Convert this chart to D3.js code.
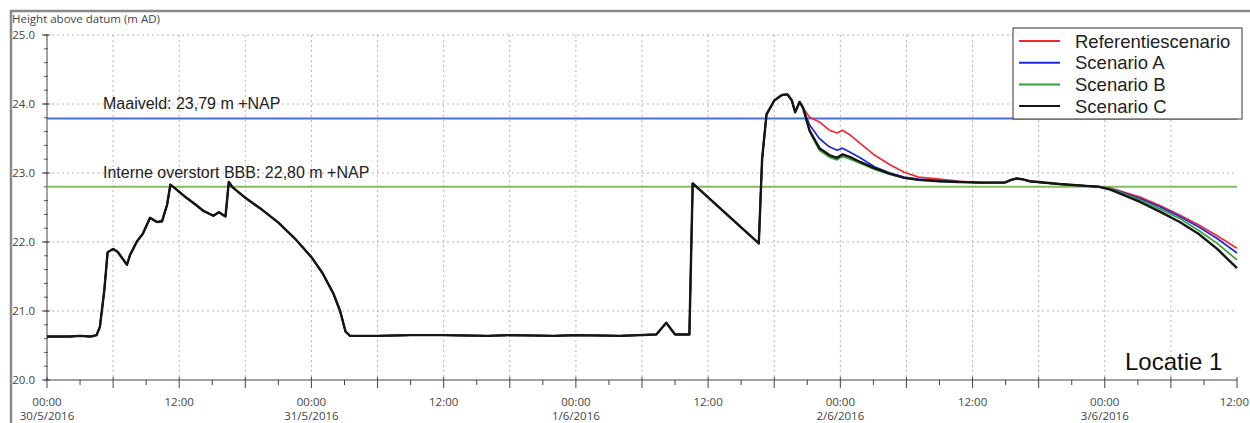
<!DOCTYPE html>
<html>
<head>
<meta charset="utf-8">
<script src="https://cdn.jsdelivr.net/npm/d3@7"></script>
<style>
  body { margin: 0; background: #fff; }
  text { font-family: "Liberation Sans", Arial, sans-serif; }
  .tick-label { font-family: "Open Sans", sans-serif; font-size: 11.5px; fill: #444; }
</style>
</head>
<body>
<div id="chart"></div>
<script>
// ------------------------------------------------ Data -------------------------------------------------
// hours since 30/5/2016 00:00, water level (m AD) - identical for all scenarios until the split
var commonHours = [0, 2, 3, 4, 4.5, 4.8, 5.2, 5.5, 6.0, 6.4, 7.26, 7.53, 8.17, 8.7, 9.35, 9.98, 10.44, 10.9, 11.2, 11.6,
    12.5, 13.5, 14.2, 15.1, 15.6, 16.2, 16.5, 16.8, 18, 19.5, 21, 22.5, 24, 25, 26, 26.6, 27.1, 27.5, 30, 33, 36, 40,
    42, 46, 48, 52, 55.3, 56.2, 57, 58.3, 58.6, 64.6, 64.9, 65.3, 66.0, 66.7, 67.2, 67.6, 67.9, 68.3, 68.6]
var commonLevels = [20.63, 20.63, 20.64, 20.63, 20.65, 20.77, 21.3, 21.85, 21.9, 21.86, 21.67, 21.81, 22.01, 22.12, 22.35, 22.29, 22.3, 22.54, 22.83, 22.78,
    22.66, 22.54, 22.45, 22.38, 22.43, 22.37, 22.87, 22.8, 22.64, 22.47, 22.28, 22.05, 21.78, 21.55, 21.25, 21.0, 20.7, 20.64, 20.64, 20.65, 20.65, 20.64,
    20.65, 20.64, 20.65, 20.64, 20.66, 20.83, 20.66, 20.66, 22.85, 21.98, 23.2, 23.85, 24.05, 24.13, 24.14, 24.05, 23.88, 24.03, 23.95]

// after the split every scenario has its own values
var tailHours = [68.6, 69.2, 70.1, 71.0, 71.7, 72.2, 72.9, 73.8, 75.1, 76.5, 77.8, 79.1, 81, 82.8, 84.7, 86.9, 87.5, 88.0,
    88.5, 89.2, 91.9, 94.6, 95.5, 96.5, 97.4, 99.2, 101, 102.8, 104.5, 106.2, 108]
var refValues = [23.95, 23.81, 23.74, 23.62, 23.58, 23.62, 23.55, 23.43, 23.26, 23.12, 23.01, 22.94, 22.91, 22.88, 22.86, 22.86, 22.9, 22.92,
    22.91, 22.88, 22.84, 22.81, 22.80, 22.78, 22.74, 22.65, 22.53, 22.39, 22.25, 22.09, 21.91]
var scenAValues = [23.95, 23.70, 23.50, 23.38, 23.33, 23.36, 23.30, 23.22, 23.09, 23.00, 22.94, 22.91, 22.89, 22.87, 22.86, 22.86, 22.9, 22.92,
    22.91, 22.88, 22.84, 22.81, 22.80, 22.77, 22.73, 22.63, 22.51, 22.37, 22.22, 22.05, 21.84]
var scenBValues = [23.95, 23.60, 23.33, 23.23, 23.19, 23.24, 23.20, 23.14, 23.05, 22.98, 22.93, 22.90, 22.88, 22.87, 22.86, 22.86, 22.9, 22.92,
    22.91, 22.88, 22.84, 22.81, 22.80, 22.77, 22.72, 22.61, 22.48, 22.34, 22.17, 21.98, 21.74]
var scenCValues = [23.95, 23.62, 23.36, 23.26, 23.22, 23.27, 23.23, 23.16, 23.07, 22.99, 22.93, 22.90, 22.88, 22.87, 22.86, 22.86, 22.9, 22.92,
    22.91, 22.88, 22.84, 22.81, 22.80, 22.76, 22.70, 22.58, 22.44, 22.29, 22.12, 21.90, 21.62]

var seriesNames = ['Referentiescenario', 'Scenario A', 'Scenario B', 'Scenario C']
var seriesColors = ['#f02a35', '#2228d8', '#3a9e3a', '#151515']
var seriesTails = [refValues, scenAValues, scenBValues, scenCValues]

var refLevels = [23.79, 22.80]
var refLabels = ['Maaiveld: 23,79 m +NAP', 'Interne overstort BBB: 22,80 m +NAP']
var refColors = ['#4b6fd6', '#86bd5c']

var yTicks = [20, 21, 22, 23, 24, 25]

// ------------------------------------------------ Setup -------------------------------------------------
var width = 1250
var height = 423
var margin = {left: 47, top: 35, right: 13, bottom: 43}
var startDate = new Date(2016, 4, 30, 0, 0)
var endDate = new Date(2016, 5, 3, 12, 0)

var hourToDate = function(h) { return new Date(startDate.getTime() + h * 3600 * 1000) }

var svg = d3.select('#chart').append('svg')
    .attr('width', width)
    .attr('height', height)

var x = d3.scaleTime().domain([startDate, endDate]).range([margin.left, width - margin.right])
var y = d3.scaleLinear().domain([20, 25]).range([height - margin.bottom, margin.top])

// outer frame
svg.append('rect')
    .attr('x', 11).attr('y', 11)
    .attr('width', width + 20).attr('height', height + 20)
    .attr('fill', 'none')
    .attr('stroke', '#8a8a8a')
    .attr('stroke-width', 2.5)

svg.append('text')
    .attr('x', 12).attr('y', 23)
    .attr('class', 'tick-label')
    .text('Height above datum (m AD)')

// ------------------------------------------------ Grid -------------------------------------------------
var sixHours = d3.timeHour.every(6).range(startDate, endDate)
svg.append('g').selectAll('line')
    .data(sixHours.slice(1))
    .join('line')
    .attr('x1', d => x(d)).attr('x2', d => x(d))
    .attr('y1', y(25)).attr('y2', y(20))
    .attr('stroke', '#b5b5b5')
    .attr('stroke-dasharray', '2,3')

svg.append('g').selectAll('line')
    .data(yTicks.slice(1))
    .join('line')
    .attr('x1', x.range()[0]).attr('x2', x.range()[1])
    .attr('y1', d => y(d)).attr('y2', d => y(d))
    .attr('stroke', '#b5b5b5')
    .attr('stroke-dasharray', '2,3')

// ------------------------------------------------ Axes -------------------------------------------------
var yAxis = svg.append('g').attr('transform', 'translate(' + margin.left + ',0)')
yAxis.append('line')
    .attr('y1', y(25)).attr('y2', y(20))
    .attr('stroke', '#444')
yAxis.selectAll('.minor')
    .data(d3.range(20, 25.01, 0.2))
    .join('line')
    .attr('class', 'minor')
    .attr('x1', -3).attr('x2', 1)
    .attr('y1', d => y(d)).attr('y2', d => y(d))
    .attr('stroke', '#555')
yAxis.selectAll('.major')
    .data(yTicks)
    .join('line')
    .attr('class', 'major')
    .attr('x1', -5).attr('x2', 3)
    .attr('y1', d => y(d)).attr('y2', d => y(d))
    .attr('stroke', '#444')
yAxis.selectAll('text')
    .data(yTicks)
    .join('text')
    .attr('class', 'tick-label')
    .attr('x', -12)
    .attr('y', d => y(d) + 4)
    .attr('text-anchor', 'end')
    .text(d => d3.format('.1f')(d))

var xAxis = svg.append('g').attr('transform', 'translate(0,' + y(20) + ')')
xAxis.append('line')
    .attr('x1', x.range()[0]).attr('x2', x.range()[1])
    .attr('stroke', '#444')
xAxis.selectAll('.tk')
    .data(d3.timeHour.every(3).range(startDate, new Date(endDate.getTime() + 1)))
    .join('line')
    .attr('class', 'tk')
    .attr('x1', d => x(d)).attr('x2', d => x(d))
    .attr('y1', d => d.getHours() % 6 == 0 ? -3 : 0)
    .attr('y2', d => d.getHours() % 6 == 0 ? 8 : 5)
    .attr('stroke', '#444')

var labelTimes = d3.timeHour.every(12).range(startDate, new Date(endDate.getTime() + 1))
xAxis.selectAll('.hl')
    .data(labelTimes)
    .join('text')
    .attr('class', 'tick-label hl')
    .attr('x', d => x(d) > 1230 ? width - 1 : x(d))
    .attr('y', 26)
    .attr('text-anchor', d => x(d) > 1230 ? 'end' : 'middle')
    .text(d3.timeFormat('%H:%M'))
xAxis.selectAll('.dl')
    .data(labelTimes.filter(d => d.getHours() == 0))
    .join('text')
    .attr('class', 'tick-label dl')
    .attr('x', d => x(d))
    .attr('y', 40)
    .attr('text-anchor', 'middle')
    .text(d3.timeFormat('%-d/%-m/%Y'))

// ------------------------------------------------ Reference levels -------------------------------------------------
svg.append('g').selectAll('line')
    .data(refLevels)
    .join('line')
    .attr('x1', x.range()[0]).attr('x2', x.range()[1])
    .attr('y1', d => y(d)).attr('y2', d => y(d))
    .attr('stroke', (d, i) => refColors[i])
    .attr('stroke-width', 2)

svg.append('g').selectAll('text')
    .data(refLevels)
    .join('text')
    .attr('x', 103)
    .attr('y', (d, i) => y(i == 0 ? 24 : 23) + 5)
    .style('font-size', '16px')
    .style('fill', '#222')
    .text((d, i) => refLabels[i])

// ------------------------------------------------ Lines -------------------------------------------------
var line = d3.line()
    .x(d => x(hourToDate(d[0])))
    .y(d => y(d[1]))

var commonPoints = commonHours.map((h, i) => [h, commonLevels[i]])

svg.append('g').selectAll('path')
    .data(seriesTails)
    .join('path')
    .attr('d', function(tail) {
        var pts = commonPoints.concat(tailHours.slice(1).map((h, i) => [h, tail[i + 1]]))
        return line(pts)
    })
    .attr('fill', 'none')
    .attr('stroke', (d, i) => seriesColors[i])
    .attr('stroke-width', (d, i) => i == 3 ? 2.4 : 1.7)
    .attr('stroke-linejoin', 'round')

// ------------------------------------------------ Legend -------------------------------------------------
var legend = svg.append('g').attr('transform', 'translate(1013,28)')
legend.append('rect')
    .attr('width', 229).attr('height', 91)
    .attr('fill', '#fff')
    .attr('stroke', '#333')
    .attr('stroke-width', 1)
var rows = legend.selectAll('g')
    .data(seriesNames)
    .join('g')
    .attr('transform', (d, i) => 'translate(0,' + (13 + i * 21.7) + ')')
rows.append('line')
    .attr('x1', 6).attr('x2', 47)
    .attr('stroke', (d, i) => seriesColors[i])
    .attr('stroke-width', 2)
rows.append('text')
    .attr('x', 62).attr('y', 6.5)
    .style('font-size', '18.5px')
    .style('fill', '#222')
    .text(d => d)

svg.append('text')
    .attr('x', 1125).attr('y', 370)
    .style('font-size', '24px')
    .style('fill', '#111')
    .text('Locatie 1')
</script>
</body>
</html>
